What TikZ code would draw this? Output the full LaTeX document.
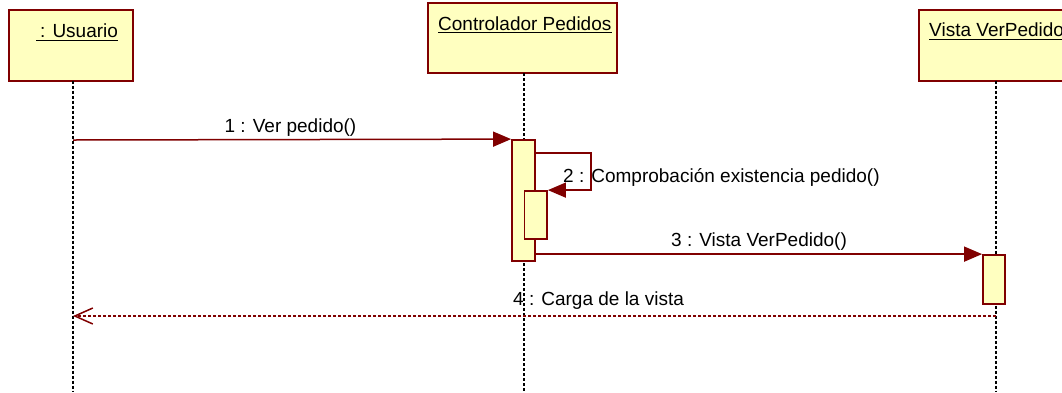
\documentclass[tikz,border=0pt]{standalone}
\usepackage{fontspec}
\setmainfont{Liberation Sans}
\usetikzlibrary{arrows.meta}
\definecolor{rosefill}{RGB}{255,255,192}
\definecolor{roseline}{RGB}{128,0,0}
\begin{document}
\begin{tikzpicture}[x=1pt,y=-1pt,
  objbox/.style={draw=roseline,fill=rosefill,line width=1.8pt,rectangle,inner sep=0pt},
  actbar/.style={draw=roseline,fill=rosefill,line width=1.8pt,rectangle,inner sep=0pt},
  lbl/.style={font=\fontsize{19pt}{22pt}\selectfont,inner sep=0pt,text=black},
  uline/.style={draw=black,line width=1pt},
  lifeline/.style={draw=black,line width=1.6pt,dash pattern=on 3pt off 2pt},
  msg/.style={draw=roseline,line width=1.5pt,-{Triangle[length=18pt,width=15pt]}},
  ret/.style={draw=roseline,line width=1.5pt,dash pattern=on 3pt off 2pt,-{Straight Barb[length=18pt,width=16pt,line width=1.5pt]}}
]
\useasboundingbox (0,0) rectangle (1062,392);

% object boxes
\node[objbox,minimum width=124pt,minimum height=70.7pt] (U) at (71,45.35) {};
\node[objbox,minimum width=189pt,minimum height=70pt] (C) at (522.5,38.3) {};
\node[objbox,minimum width=154pt,minimum height=70.7pt] (V) at (996,45.35) {};

% header texts
\node[lbl,anchor=base west] (tU) at (40,37.3) {: Usuario};
\node[lbl,anchor=base west] (tC) at (438,30) {Controlador Pedidos};
\node[lbl,anchor=base west] (tV) at (929,36.7) {Vista VerPedido};
\draw[uline] ([xshift=-4pt,yshift=-2.7pt]tU.base west) -- ([yshift=-2.7pt]tU.base east);
\draw[uline] ([yshift=-2.7pt]tC.base west) -- ([yshift=-2.7pt]tC.base east);
\draw[uline] ([yshift=-2.7pt]tV.base west) -- ([yshift=-2.7pt]tV.base east);

% lifelines
\coordinate (Utop) at (73,80.7);
\coordinate (Ubot) at (73,392);
\coordinate (Ctop) at (524,73.3);
\coordinate (Cbot) at (524,392);
\coordinate (Vtop) at (996,80.7);
\coordinate (Vbot) at (996,392);
\draw[lifeline] (Utop) -- (Ubot);
\draw[lifeline] (Ctop) -- (Cbot);
\draw[lifeline] (Vtop) -- (Vbot);

% activation bars
\node[actbar,minimum width=23pt,minimum height=121pt] (A1) at (523.5,200.5) {};
\node[actbar,minimum width=22.5pt,minimum height=48pt] (A2) at (535.75,215) {};
\node[actbar,minimum width=22pt,minimum height=49pt] (A3) at (994,279.5) {};

% messages
\coordinate (m1s) at (73,140);
\draw[msg] (m1s) -- (A1.north west);
\draw[msg] ([yshift=-14pt]A1.north east) -- ++(55,0) |- (A2.north east);
\draw[msg] (A1.east |- A3.north west) -- (A3.north west);
\coordinate (m4s) at (996,316);
\coordinate (m4e) at (73,316);
\draw[ret] (m4s) -- (m4e);

% message labels
\node[lbl,anchor=base] (l1) at (290.5,132) {1 : Ver pedido()};
\node[lbl,anchor=base west] (l2) at (563,182.7) {2 : Comprobación existencia pedido()};
\node[lbl,anchor=base] (l3) at (759,246.7) {3 : Vista VerPedido()};
\node[lbl,anchor=base west] (l4) at (513,305) {4 : Carga de la vista};
\end{tikzpicture}
\end{document}
